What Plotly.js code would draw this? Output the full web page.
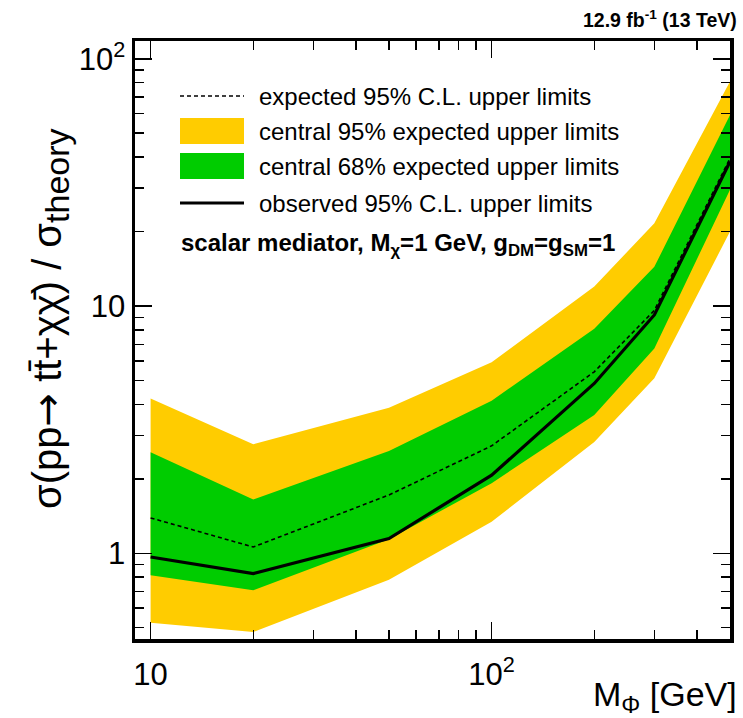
<!DOCTYPE html>
<html><head><meta charset="utf-8">
<script src="https://cdn.plot.ly/plotly-3.0.1.min.js"></script>
<style>html,body{margin:0;padding:0;background:#fff}</style>
</head><body>
<div id="chart" style="width:743px;height:718px"></div>
<script>
// ---- data ----
const mass        = [10, 20, 50, 100, 200, 300, 500];
const expected    = [1.39, 1.06, 1.72, 2.72, 5.42, 9.6, 39.6];
const observed    = [0.966, 0.827, 1.147, 2.07, 4.86, 9.2, 38.4];
const band68Low   = [0.815, 0.708, 1.14, 1.92, 3.62, 6.74, 29.5];
const band68High  = [2.56, 1.65, 2.59, 4.14, 8.1, 14.4, 59.3];
const band95Low   = [0.524, 0.48, 0.782, 1.34, 2.82, 5.1, 20.0];
const band95High  = [4.23, 2.76, 3.88, 5.92, 12.0, 21.6, 81];
const legendLabels = ["expected 95% C.L. upper limits",
                      "central 95% expected upper limits",
                      "central 68% expected upper limits",
                      "observed 95% C.L. upper limits"];
const xTickVals = [10, 100];
const xTickText = ["10", "10<sup>2</sup>"];
const yTickVals = [1, 10, 100];
const yTickText = ["1", "10", "10<sup>2</sup>"];

// ---- style ----
const ORANGE = "#ffcc00", GREEN = "#00cc00";
const FONT = "Liberation Sans, Arial, Helvetica, sans-serif";
const W = 743, H = 718, L = 135, R = 13, T = 41, B = 79;
const pw = W - L - R, ph = H - T - B;
const px = v => (v - L) / pw;           // pixel -> paper x
const py = v => (H - B - v) / ph;       // pixel -> paper y

function minorTicks(lo, hi) {
  const out = [];
  for (let d = lo; d < hi; d *= 10)
    for (let k = 2; k <= 9; k++) out.push(k * d);
  return out;
}

const traces = [
  {x: mass, y: band95Low, mode: "lines", line: {width: 0, color: ORANGE}, hoverinfo: "skip", showlegend: false},
  {x: mass, y: band95High, mode: "lines", fill: "tonexty", fillcolor: ORANGE, line: {width: 0, color: ORANGE}, name: legendLabels[1], showlegend: false},
  {x: mass, y: band68Low, mode: "lines", line: {width: 0, color: GREEN}, hoverinfo: "skip", showlegend: false},
  {x: mass, y: band68High, mode: "lines", fill: "tonexty", fillcolor: GREEN, line: {width: 0, color: GREEN}, name: legendLabels[2], showlegend: false},
  {x: mass, y: expected, mode: "lines", line: {color: "black", width: 1.6, dash: "4px,3px"}, name: legendLabels[0], showlegend: false},
  {x: mass, y: observed, mode: "lines", line: {color: "black", width: 3.2}, name: legendLabels[3], showlegend: false}
];

const axisCommon = {
  type: "log", showline: true, linewidth: 3.5, linecolor: "black", mirror: "allticks",
  ticks: "inside", ticklen: 17, tickwidth: 1.5, tickcolor: "black",
  showgrid: false, zeroline: false,
  tickfont: {family: FONT, size: 31, color: "black"}
};

const layout = {
  width: W, height: H,
  margin: {l: L, r: R, t: T, b: B, pad: 0},
  paper_bgcolor: "white", plot_bgcolor: "white",
  showlegend: false,
  xaxis: Object.assign({}, axisCommon, {
    range: [Math.log10(9), Math.log10(500)],
    tickmode: "array", tickvals: xTickVals, ticktext: xTickText,
    ticklabelstandoff: 5,
    minor: {ticks: "inside", ticklen: 9, tickwidth: 1.5, tickcolor: "black",
            tickmode: "array", tickvals: minorTicks(1, 1000), showgrid: false}
  }),
  yaxis: Object.assign({}, axisCommon, {
    range: [Math.log10(0.45), Math.log10(118)],
    tickmode: "array", tickvals: yTickVals, ticktext: yTickText,
    ticklabelstandoff: 0,
    minor: {ticks: "inside", ticklen: 9, tickwidth: 1.5, tickcolor: "black",
            tickmode: "array", tickvals: minorTicks(0.1, 1000), showgrid: false}
  }),
  shapes: [
    {type: "line", xref: "paper", yref: "paper", x0: px(180), x1: px(244), y0: py(96), y1: py(96),
     line: {color: "black", width: 1.6, dash: "4px,3px"}},
    {type: "rect", xref: "paper", yref: "paper", x0: px(180), x1: px(244), y0: py(118), y1: py(144),
     fillcolor: ORANGE, line: {width: 0}},
    {type: "rect", xref: "paper", yref: "paper", x0: px(180), x1: px(244), y0: py(153), y1: py(179),
     fillcolor: GREEN, line: {width: 0}},
    {type: "line", xref: "paper", yref: "paper", x0: px(180), x1: px(244), y0: py(203), y1: py(203),
     line: {color: "black", width: 3.2}}
  ],
  annotations: [
    ...[96, 131, 166, 203].map((yy, i) => ({
      xref: "paper", yref: "paper", x: px(257), y: py(yy), xanchor: "left", yanchor: "middle",
      text: legendLabels[i], showarrow: false, font: {family: FONT, size: 24, color: "black"}
    })),
    {xref: "paper", yref: "paper", x: px(179), y: py(244), xanchor: "left", yanchor: "middle",
     text: "<b>scalar mediator, M<sub>χ</sub>=1 GeV, g<sub>DM</sub>=g<sub>SM</sub>=1</b>",
     showarrow: false, font: {family: FONT, size: 24, color: "black"}},
    {xref: "paper", yref: "paper", x: px(739), y: py(19), xanchor: "right", yanchor: "middle",
     text: "<b>12.9 fb<sup>-1</sup> (13 TeV)</b>", showarrow: false,
     font: {family: FONT, size: 19.5, color: "black"}},
    {xref: "paper", yref: "paper", x: px(739), y: py(696), xanchor: "right", yanchor: "middle",
     text: "M<sub>Φ</sub> [GeV]", showarrow: false, font: {family: FONT, size: 34, color: "black"}},
    {xref: "paper", yref: "paper", x: px(50), y: py(319), xanchor: "center", yanchor: "middle",
     textangle: -90,
     text: "σ(pp<span style=\"font-family:DejaVu Sans\">→</span> tt̄+χχ̄) / σ<sub><span style=\"font-size:34px\">theory</span></sub>",
     showarrow: false, font: {family: FONT, size: 40, color: "black"}}
  ]
};

Plotly.newPlot("chart", traces, layout, {staticPlot: true, displayModeBar: false});
</script>
</body></html>
